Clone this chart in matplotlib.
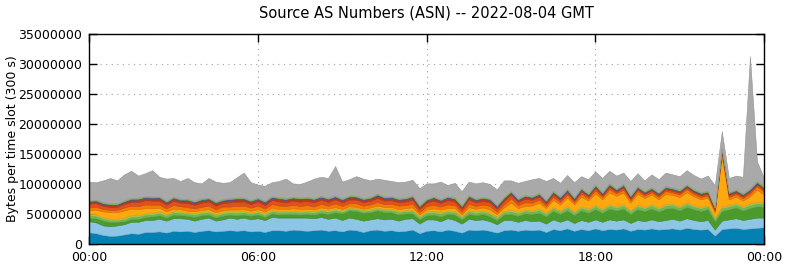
import numpy as np
import matplotlib
matplotlib.use("Agg")
import matplotlib.pyplot as plt
from matplotlib.colors import to_rgb

# 15 minute samples over the day, values in millions of bytes per 300 s slot
HOURS = np.arange(97) * 0.25

total = [
    10.4, 10.3, 10.6, 11.0, 10.6, 11.6, 12.2, 11.4,
    11.8, 12.3, 11.2, 10.9, 11.0, 10.5, 11.0, 10.3,
    10.1, 11.0, 10.4, 10.2, 10.3, 11.1, 11.9, 10.3,
    9.9, 9.7, 10.3, 10.5, 10.9, 10.1, 10.0, 10.4,
    10.9, 11.2, 11.0, 13.0, 10.4, 10.8, 11.3, 10.9,
    10.6, 10.9, 10.7, 10.5, 10.3, 10.4, 10.7, 9.3,
    10.1, 10.1, 10.4, 9.8, 10.2, 8.8, 10.4, 10.1,
    10.3, 10.0, 9.1, 10.6, 10.6, 10.2, 10.5, 10.8,
    11.0, 10.5, 11.0, 10.2, 11.5, 10.3, 11.3, 10.8,
    12.1, 11.0, 12.2, 11.4, 11.9, 10.5, 11.8, 10.6,
    11.6, 10.8, 11.9, 11.6, 11.3, 12.3, 11.5, 10.9,
    11.4, 9.8, 18.8, 11.0, 11.4, 11.2, 31.3, 13.8,
    11.0,
]

as_blue = [
    1.95, 1.8, 1.5, 1.35, 1.4, 1.6, 1.8, 1.7,
    2.0, 2.0, 2.1, 1.9, 2.2, 2.1, 2.2, 2.0,
    2.2, 2.3, 2.1, 2.2, 2.3, 2.2, 2.3, 2.1,
    2.2, 2.0, 2.3, 2.3, 2.2, 2.4, 2.3, 2.2,
    2.3, 2.4, 2.2, 2.3, 2.1, 2.4, 2.3, 2.0,
    2.3, 2.4, 2.2, 2.3, 2.1, 2.2, 2.4, 1.8,
    2.2, 2.3, 2.1, 2.4, 2.2, 1.9, 2.4, 2.3,
    2.4, 2.2, 1.9, 2.3, 2.4, 2.2, 2.4, 2.3,
    2.4, 2.0, 2.5, 2.3, 2.6, 2.2, 2.5, 2.3,
    2.6, 2.3, 2.5, 2.4, 2.6, 2.2, 2.5, 2.4,
    2.6, 2.4, 2.5, 2.6, 2.4, 2.7, 2.5, 2.4,
    2.5, 1.4, 2.5, 2.6, 2.7, 2.5, 2.6, 2.7,
    2.8,
]

as_lightblue = [
    1.85, 1.8, 1.6, 1.6, 1.7, 1.7, 1.9, 2.0,
    2.0, 2.0, 2.1, 2.0, 2.1, 2.2, 2.0, 1.9,
    2.0, 2.1, 1.8, 1.9, 2.1, 2.0, 2.1, 2.0,
    2.1, 2.0, 2.2, 2.1, 2.2, 2.0, 2.1, 2.2,
    2.0, 2.1, 2.0, 2.1, 1.9, 2.0, 1.9, 1.9,
    1.8, 1.9, 1.9, 1.9, 1.8, 2.0, 1.9, 1.6,
    1.9, 1.8, 1.7, 1.9, 1.8, 1.5, 1.8, 1.7,
    1.7, 1.6, 1.4, 1.7, 1.6, 1.5, 1.6, 1.5,
    1.5, 1.4, 1.6, 1.4, 1.5, 1.3, 1.5, 1.4,
    1.5, 1.4, 1.6, 1.5, 1.5, 1.3, 1.5, 1.4,
    1.5, 1.4, 1.5, 1.6, 1.5, 1.6, 1.5, 1.4,
    1.5, 1.0, 1.4, 1.5, 1.6, 1.5, 1.6, 1.7,
    1.6,
]

as_green = [
    0.6, 0.7, 0.8, 0.7, 0.6, 0.5, 0.5, 0.5,
    0.5, 0.6, 0.6, 0.5, 0.6, 0.5, 0.5, 0.6,
    0.6, 0.5, 0.5, 0.6, 0.5, 0.6, 0.5, 0.6,
    0.6, 0.5, 0.6, 0.5, 0.6, 0.6, 0.5, 0.6,
    0.6, 0.7, 0.8, 0.9, 1.1, 1.2, 1.3, 1.3,
    1.2, 1.3, 1.2, 1.1, 1.0, 0.9, 0.8, 0.7,
    0.7, 0.8, 0.8, 0.7, 0.9, 0.7, 0.8, 0.8,
    0.9, 0.8, 0.7, 0.9, 1.0, 1.0, 1.1, 1.2,
    1.3, 1.2, 1.4, 1.3, 1.5, 1.3, 1.6, 1.5,
    1.7, 1.5, 1.8, 1.7, 1.8, 1.5, 1.8, 1.7,
    1.8, 1.6, 1.9, 1.8, 1.7, 1.9, 1.8, 1.7,
    1.8, 1.4, 1.6, 1.7, 1.8, 1.6, 1.8, 1.9,
    1.8,
]

as_midgreen = [
    0.4, 0.4, 0.35, 0.35, 0.3, 0.35, 0.4, 0.4,
    0.4, 0.35, 0.4, 0.35, 0.4, 0.4, 0.35, 0.4,
    0.4, 0.35, 0.4, 0.4, 0.35, 0.4, 0.4, 0.35,
    0.4, 0.35, 0.4, 0.4, 0.35, 0.4, 0.4, 0.4,
    0.35, 0.4, 0.4, 0.35, 0.3, 0.3, 0.3, 0.3,
    0.3, 0.3, 0.35, 0.35, 0.4, 0.4, 0.4, 0.35,
    0.4, 0.4, 0.45, 0.4, 0.4, 0.35, 0.45, 0.4,
    0.4, 0.45, 0.4, 0.4, 0.45, 0.4, 0.45, 0.4,
    0.45, 0.4, 0.45, 0.4, 0.5, 0.4, 0.45, 0.45,
    0.5, 0.45, 0.5, 0.45, 0.5, 0.4, 0.5, 0.45,
    0.5, 0.45, 0.5, 0.5, 0.45, 0.5, 0.45, 0.45,
    0.5, 0.35, 0.5, 0.45, 0.5, 0.45, 0.5, 0.5,
    0.45,
]

as_lime = [
    0.25, 0.2, 0.2, 0.2, 0.2, 0.25, 0.2, 0.2,
    0.2, 0.2, 0.25, 0.2, 0.2, 0.2, 0.2, 0.25,
    0.2, 0.2, 0.2, 0.25, 0.2, 0.2, 0.2, 0.2,
    0.2, 0.25, 0.2, 0.2, 0.2, 0.2, 0.25, 0.2,
    0.2, 0.2, 0.2, 0.2, 0.25, 0.2, 0.2, 0.2,
    0.2, 0.2, 0.2, 0.25, 0.2, 0.2, 0.2, 0.2,
    0.2, 0.25, 0.2, 0.2, 0.2, 0.2, 0.2, 0.25,
    0.2, 0.2, 0.2, 0.2, 0.25, 0.2, 0.2, 0.2,
    0.25, 0.2, 0.2, 0.2, 0.25, 0.2, 0.25, 0.2,
    0.25, 0.2, 0.25, 0.2, 0.25, 0.2, 0.25, 0.2,
    0.25, 0.2, 0.25, 0.2, 0.2, 0.25, 0.2, 0.2,
    0.2, 0.2, 0.25, 0.2, 0.2, 0.2, 0.25, 0.25,
    0.2,
]

as_orange = [
    0.6, 0.8, 1.0, 1.1, 1.1, 1.2, 1.1, 1.0,
    0.9, 0.8, 0.6, 0.5, 0.4, 0.4, 0.3, 0.3,
    0.3, 0.35, 0.3, 0.3, 0.3, 0.35, 0.3, 0.3,
    0.3, 0.3, 0.35, 0.3, 0.3, 0.35, 0.3, 0.3,
    0.3, 0.3, 0.3, 0.3, 0.2, 0.2, 0.2, 0.2,
    0.3, 0.3, 0.3, 0.3, 0.3, 0.3, 0.4, 0.3,
    0.4, 0.4, 0.5, 0.4, 0.5, 0.3, 0.5, 0.4,
    0.5, 0.5, 0.4, 0.6, 1.2, 0.7, 0.6, 0.8,
    1.0, 0.8, 1.2, 1.0, 1.4, 1.2, 1.6, 1.4,
    1.9, 1.6, 2.0, 1.8, 1.9, 1.3, 1.8, 1.5,
    1.6, 1.4, 1.7, 1.5, 1.6, 1.7, 1.5, 1.3,
    1.2, 0.9, 8.3, 1.0, 1.1, 1.0, 1.2, 2.0,
    1.4,
]

as_darkorange = [
    0.5, 0.5, 0.4, 0.4, 0.4, 0.5, 0.5, 0.5,
    0.6, 0.6, 0.5, 0.5, 0.6, 0.5, 0.6, 0.5,
    0.5, 0.6, 0.5, 0.6, 0.5, 0.6, 0.6, 0.5,
    0.6, 0.5, 0.6, 0.6, 0.5, 0.6, 0.5, 0.6,
    0.5, 0.6, 0.5, 0.6, 0.5, 0.5, 0.6, 0.5,
    0.5, 0.6, 0.5, 0.5, 0.6, 0.5, 0.6, 0.4,
    0.5, 0.6, 0.5, 0.6, 0.5, 0.4, 0.6, 0.5,
    0.5, 0.6, 0.4, 0.5, 0.7, 0.5, 0.6, 0.5,
    0.5, 0.4, 0.5, 0.4, 0.5, 0.4, 0.5, 0.4,
    0.5, 0.4, 0.5, 0.4, 0.5, 0.4, 0.5, 0.4,
    0.4, 0.4, 0.5, 0.4, 0.4, 0.5, 0.4, 0.4,
    0.4, 0.3, 0.6, 0.4, 0.4, 0.4, 0.5, 0.6,
    0.5,
]

as_red = [
    0.6, 0.6, 0.5, 0.5, 0.5, 0.6, 0.6, 0.7,
    0.7, 0.7, 0.7, 0.6, 0.7, 0.6, 0.7, 0.6,
    0.7, 0.7, 0.6, 0.6, 0.7, 0.7, 0.7, 0.6,
    0.7, 0.6, 0.7, 0.7, 0.6, 0.7, 0.7, 0.7,
    0.7, 0.7, 0.6, 0.7, 0.6, 0.6, 0.6, 0.6,
    0.6, 0.7, 0.6, 0.6, 0.6, 0.6, 0.7, 0.5,
    0.6, 0.7, 0.6, 0.7, 0.6, 0.5, 0.7, 0.6,
    0.6, 0.6, 0.5, 0.6, 0.6, 0.5, 0.6, 0.5,
    0.5, 0.4, 0.4, 0.4, 0.4, 0.3, 0.4, 0.3,
    0.4, 0.3, 0.4, 0.3, 0.4, 0.3, 0.3, 0.3,
    0.3, 0.3, 0.3, 0.3, 0.3, 0.3, 0.3, 0.3,
    0.3, 0.2, 0.3, 0.3, 0.3, 0.3, 0.3, 0.3,
    0.3,
]

as_darkred = [
    0.3, 0.3, 0.3, 0.3, 0.3, 0.3, 0.4, 0.4,
    0.4, 0.35, 0.4, 0.35, 0.4, 0.35, 0.4, 0.35,
    0.4, 0.35, 0.4, 0.35, 0.4, 0.4, 0.35, 0.4,
    0.35, 0.4, 0.35, 0.4, 0.4, 0.35, 0.4, 0.35,
    0.4, 0.35, 0.4, 0.35, 0.35, 0.4, 0.35, 0.35,
    0.35, 0.4, 0.35, 0.4, 0.35, 0.35, 0.4, 0.3,
    0.35, 0.4, 0.35, 0.4, 0.35, 0.3, 0.4, 0.35,
    0.35, 0.4, 0.3, 0.35, 0.35, 0.3, 0.35, 0.3,
    0.3, 0.25, 0.3, 0.25, 0.25, 0.2, 0.25, 0.2,
    0.25, 0.2, 0.25, 0.2, 0.25, 0.2, 0.2, 0.2,
    0.2, 0.2, 0.2, 0.2, 0.2, 0.2, 0.2, 0.2,
    0.2, 0.15, 0.2, 0.2, 0.2, 0.2, 0.2, 0.2,
    0.2,
]

as_navy = [
    0.15, 0.15, 0.15, 0.15, 0.15, 0.15, 0.15, 0.15,
    0.15, 0.15, 0.15, 0.15, 0.15, 0.15, 0.15, 0.15,
    0.15, 0.15, 0.15, 0.15, 0.15, 0.15, 0.15, 0.15,
    0.15, 0.15, 0.15, 0.15, 0.15, 0.15, 0.15, 0.15,
    0.15, 0.15, 0.15, 0.15, 0.15, 0.15, 0.15, 0.15,
    0.15, 0.15, 0.15, 0.15, 0.15, 0.15, 0.15, 0.15,
    0.15, 0.15, 0.15, 0.15, 0.15, 0.15, 0.15, 0.15,
    0.15, 0.15, 0.15, 0.15, 0.15, 0.15, 0.15, 0.15,
    0.15, 0.15, 0.15, 0.15, 0.15, 0.15, 0.15, 0.15,
    0.15, 0.15, 0.15, 0.15, 0.15, 0.15, 0.15, 0.15,
    0.15, 0.15, 0.15, 0.15, 0.15, 0.15, 0.15, 0.15,
    0.15, 0.1, 0.15, 0.15, 0.15, 0.15, 0.15, 0.15,
    0.15,
]

as_yellowgreen = [
    0.15, 0.15, 0.15, 0.15, 0.15, 0.15, 0.15, 0.15,
    0.15, 0.15, 0.15, 0.15, 0.15, 0.15, 0.15, 0.15,
    0.15, 0.15, 0.15, 0.15, 0.15, 0.15, 0.15, 0.15,
    0.15, 0.15, 0.15, 0.15, 0.15, 0.15, 0.15, 0.15,
    0.15, 0.15, 0.15, 0.15, 0.15, 0.15, 0.15, 0.15,
    0.15, 0.15, 0.15, 0.15, 0.15, 0.15, 0.15, 0.15,
    0.15, 0.15, 0.15, 0.15, 0.15, 0.15, 0.15, 0.15,
    0.15, 0.15, 0.15, 0.15, 0.15, 0.15, 0.15, 0.15,
    0.2, 0.15, 0.2, 0.15, 0.2, 0.15, 0.2, 0.15,
    0.2, 0.15, 0.2, 0.15, 0.2, 0.15, 0.2, 0.15,
    0.2, 0.15, 0.2, 0.15, 0.2, 0.15, 0.2, 0.15,
    0.15, 0.1, 0.15, 0.15, 0.15, 0.15, 0.2, 0.2,
    0.2,
]

layers = [as_blue, as_lightblue, as_green, as_midgreen, as_lime, as_orange,
          as_darkorange, as_red, as_darkred, as_navy, as_yellowgreen]
colors = ["#0580b2", "#8cc5e6", "#4a9a2c", "#72b552", "#9ad35a", "#ffa810",
          "#f27d00", "#e0501a", "#b63a1e", "#3f5fa8", "#8bc34a", "#a9a9a9"]

stack = np.array(layers, dtype=float)
other = np.clip(np.array(total) - stack.sum(axis=0), 0, None)
stack = np.vstack([stack, other]) * 1e6

fig = plt.figure(figsize=(7.85, 2.68), dpi=100)
ax = fig.add_axes([89 / 785, 24 / 268, 675 / 785, 210 / 268])

polys = ax.stackplot(HOURS, stack, colors=colors)
for p, c in zip(polys, colors):
    p.set_edgecolor([v * 0.88 for v in to_rgb(c)])
    p.set_linewidth(0.4)

ax.set_xlim(0, 24)
ax.set_ylim(0, 35e6)
ax.set_xticks([0, 6, 12, 18, 24])
ax.set_xticklabels(["00:00", "06:00", "12:00", "18:00", "00:00"])
ax.set_yticks(np.arange(0, 35e6 + 1, 5e6))
ax.set_yticklabels([str(int(v)) for v in np.arange(0, 35e6 + 1, 5e6)])

ax.tick_params(direction="in", length=6, width=1, top=True, right=True,
               labelsize=9, pad=5)
ax.set_axisbelow(True)
ax.grid(True, color="#a0a0a0", linestyle=(0, (1, 4)), linewidth=0.8)
for s in ax.spines.values():
    s.set_linewidth(1)
    s.set_zorder(5)

ax.set_ylabel("Bytes per time slot (300 s)", fontsize=9)
ax.yaxis.set_label_coords(-0.103, 0.5)
ax.set_title("Source AS Numbers (ASN) -- 2022-08-04 GMT", fontsize=10.5, pad=12)

fig.savefig("out.png", dpi=100)
